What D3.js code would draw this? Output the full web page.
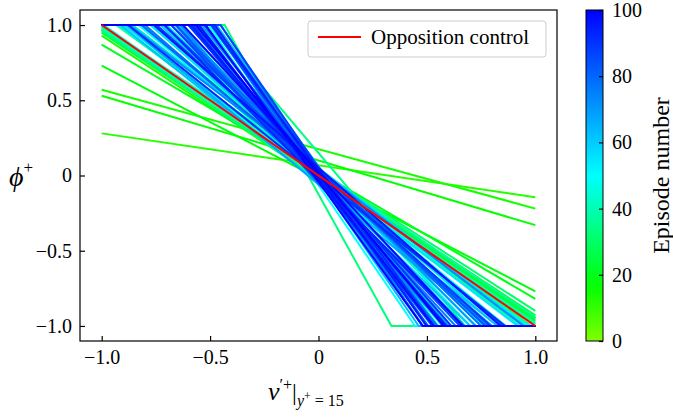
<!DOCTYPE html>
<html>
<head>
<meta charset="utf-8">
<script src="https://cdn.jsdelivr.net/npm/d3@7/dist/d3.min.js"></script>
<style>
  html, body { margin: 0; padding: 0; background: #fff; }
  svg text { font-family: "Liberation Serif", "Times New Roman", serif; fill: #000; }
</style>
</head>
<body>
<svg id="chart" width="673" height="417"></svg>
<script>
// ---- data ----
// each policy line: phi = clip(-gain * v + offset, -1, 1)
const episodes = [12, 13, 14, 16, 18, 19, 20, 22, 24, 26, 28, 30, 31, 32, 33, 34, 35, 36, 37, 38, 39, 40, 41, 42, 43, 44, 45, 46, 47, 48, 49, 50, 51, 52, 53, 54, 55,
  56, 57, 58, 59, 60, 61, 62, 63, 64, 65, 66, 67, 68, 69, 70, 71, 72, 73, 74, 75, 76, 77, 78, 79, 80,
  81, 82, 83, 84, 85, 86, 87, 88, 89, 90, 91, 92, 93, 94, 95, 96, 97, 98, 99, 100];
const gains = [0.212, 0.95, 0.395, 0.43, 0.75, 0.96, 0.845, 0.95, 0.955, 0.97, 0.99, 1.05, 0.93, 1.0, 2.6, 1.7, 1.12, 1.05, 0.97, 1.2, 1.25, 0.98, 1.08, 1.3, 1.5, 1.9, 1.02, 1.15, 1.35, 1.6, 1.9, 2.1, 1.18, 1.4, 1.6, 1.75, 1.1,
  1.25, 1.60, 1.10, 1.90, 1.40, 2.00, 1.15, 1.70, 1.35, 2.10, 1.50, 1.20, 1.80, 1.45, 2.05, 1.30, 1.65, 1.10, 1.95, 1.55, 1.25, 2.15, 1.75, 1.40, 1.85,
  1.20, 2.00, 1.60, 1.35, 1.90, 1.50, 2.10, 1.30, 1.80, 1.65, 1.15, 1.95, 1.45, 2.05, 1.70, 1.25, 1.85, 1.55, 2.00, 1.75];
const offsets = [0.068, -0.02, 0.175, 0.10, -0.02, 0.01, 0.025, 0.02, -0.005, 0.02, 0.0, 0.03, 0.03, -0.03, -0.125, 0.15, 0.04, 0.02, 0.03, 0.03, -0.02, 0.0, 0.0, 0.0, 0.05, 0.05, -0.01, -0.02, 0.03, 0.04, -0.04, -0.065, 0.02, 0.02, -0.03, 0.0, 0.01,
  0.03, -0.04, 0.05, 0.00, -0.02, 0.06, -0.05, 0.02, 0.04, -0.03, 0.01, -0.06, 0.03, 0.05, -0.01, 0.02, -0.05, 0.04, 0.06, -0.02, 0.00, 0.03, -0.04, 0.05, -0.03,
  0.02, 0.01, -0.05, 0.04, 0.00, -0.02, 0.05, 0.03, -0.04, 0.01, -0.01, 0.04, -0.03, 0.02, 0.00, 0.05, -0.02, 0.03, -0.04, 0.01];
const oppositionGain = 1.0;   // phi = -v
const xTicks = [-1, -0.5, 0, 0.5, 1];
const yTicks = [-1, -0.5, 0, 0.5, 1];
const cbTicks = [0, 20, 40, 60, 80, 100];
const legendLabel = "Opposition control";
const cbLabel = "Episode number";

// ---- layout ----
const svg = d3.select("#chart");
const L = 80, R = 557, T = 10, B = 341;
const x = d3.scaleLinear().domain([-1.1, 1.1]).range([L, R]);
const y = d3.scaleLinear().domain([-1.1, 1.1]).range([B, T]);
const hue = d3.scaleLinear().domain([0, 50, 100]).range([90, 180, 240]);
const color = ep => d3.hsl(hue(ep), 1, 0.5).toString();

const clamp = v => Math.max(-1, Math.min(1, v));
function policyPoints(k, b) {
  const vs = [-1, 1];
  [(b - 1) / k, (b + 1) / k].forEach(v => { if (v > -1 && v < 1) vs.push(v); });
  vs.sort((a, c) => a - c);
  return vs.map(v => [v, clamp(-k * v + b)]);
}
const line = d3.line().x(d => x(d[0])).y(d => y(d[1]));

const g = svg.append("g");
const lines = episodes.map((ep, i) => ({ ep, k: gains[i], b: offsets[i] }));
g.selectAll("path.ep").data(lines).join("path")
  .attr("class", "ep")
  .attr("d", d => line(policyPoints(d.k, d.b)))
  .attr("fill", "none")
  .attr("stroke", d => color(d.ep))
  .attr("stroke-width", 2)
  .attr("stroke-linejoin", "round");

g.append("path")
  .attr("d", line(policyPoints(oppositionGain, 0)))
  .attr("fill", "none").attr("stroke", "#ff0000").attr("stroke-width", 2);

// axes
const fmt = v => v === 0 ? "0" : d3.format(".1f")(v);
const xAxis = svg.append("g").attr("transform", `translate(0,${B})`)
  .call(d3.axisBottom(x).tickValues(xTicks).tickFormat(fmt).tickSize(-5).tickPadding(9));
const yAxis = svg.append("g").attr("transform", `translate(${L},0)`)
  .call(d3.axisLeft(y).tickValues(yTicks).tickFormat(fmt).tickSize(-5).tickPadding(8));
[xAxis, yAxis].forEach(a => {
  a.select(".domain").remove();
  a.selectAll("line").attr("stroke", "#000").attr("stroke-width", 1.2);
  a.selectAll("text").style("font-size", "20px").style("font-family", "Liberation Serif");
});
svg.append("rect").attr("x", L).attr("y", T).attr("width", R - L).attr("height", B - T)
  .attr("fill", "none").attr("stroke", "#000").attr("stroke-width", 1.2);

// legend
const lg = svg.append("g");
lg.append("rect").attr("x", 308).attr("y", 21).attr("width", 238).attr("height", 36).attr("rx", 3)
  .attr("fill", "#fff").attr("fill-opacity", 0.8).attr("stroke", "#cccccc").attr("stroke-width", 1);
lg.append("line").attr("x1", 318).attr("x2", 361).attr("y1", 37).attr("y2", 37)
  .attr("stroke", "#ff0000").attr("stroke-width", 2);
lg.append("text").attr("x", 371).attr("y", 44).style("font-size", "21px").text(legendLabel);

// axis labels
const yl = svg.append("text").attr("x", 9).attr("y", 186).style("font-size", "28px");
yl.append("tspan").style("font-style", "italic").text("ϕ");
yl.append("tspan").attr("dy", -13).style("font-size", "17px").text("+");

const xl = svg.append("text").attr("x", 268).attr("y", 400).style("font-size", "26px");
xl.append("tspan").style("font-style", "italic").text("v");
xl.append("tspan").attr("dy", -10).style("font-size", "16px").text("′+");
xl.append("tspan").attr("dy", 10).style("font-size", "24px").text("|");
xl.append("tspan").attr("dy", 6).style("font-size", "16px").style("font-style", "italic").text("y");
xl.append("tspan").attr("dy", -6).style("font-size", "12px").text("+");
xl.append("tspan").attr("dy", 6).style("font-size", "16px").text(" = 15");

// colorbar
const cbX = 586, cbW = 17;
const cb = d3.scaleLinear().domain([0, 100]).range([B, T]);
const grad = svg.append("defs").append("linearGradient").attr("id", "cbgrad")
  .attr("x1", 0).attr("y1", 1).attr("x2", 0).attr("y2", 0);
d3.range(0, 101, 5).forEach(v => grad.append("stop").attr("offset", v / 100).attr("stop-color", color(v)));
svg.append("rect").attr("x", cbX).attr("y", T).attr("width", cbW).attr("height", B - T)
  .attr("fill", "url(#cbgrad)").attr("stroke", "#000").attr("stroke-width", 1);
const cbAxis = svg.append("g").attr("transform", `translate(${cbX + cbW},0)`)
  .call(d3.axisRight(cb).tickValues(cbTicks).tickSize(-4).tickPadding(9));
cbAxis.select(".domain").remove();
cbAxis.selectAll("line").attr("stroke", "#000").attr("stroke-width", 1.2);
cbAxis.selectAll("text").style("font-size", "20px").style("font-family", "Liberation Serif");
svg.append("text").attr("transform", `translate(669,${(T + B) / 2}) rotate(-90)`)
  .attr("text-anchor", "middle").style("font-size", "24px").text(cbLabel);
</script>
</body>
</html>
